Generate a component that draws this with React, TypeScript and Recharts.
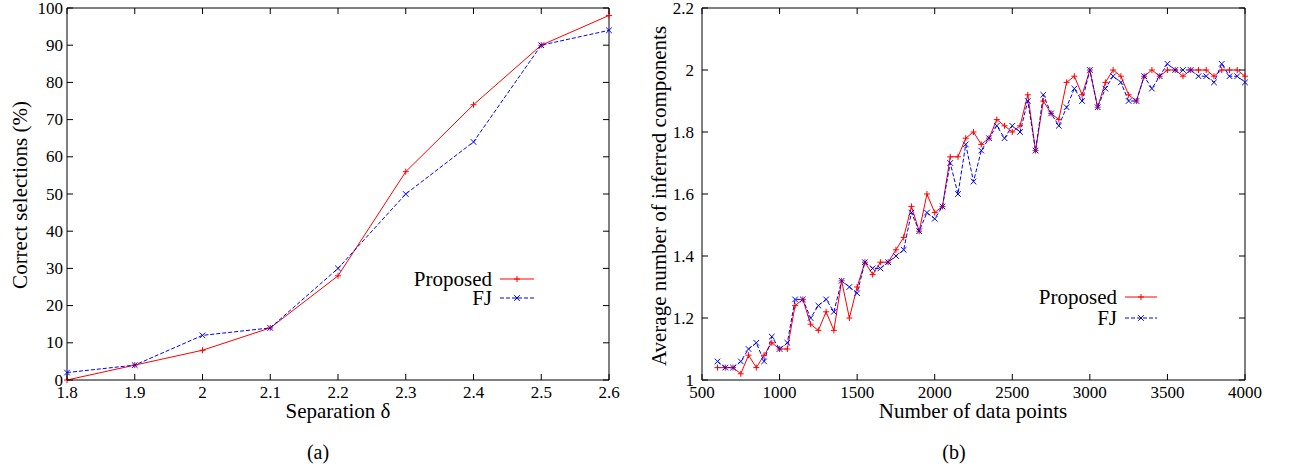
import React from 'react';
import { LineChart, Line, XAxis, YAxis, ReferenceArea, Legend } from 'recharts';

// ---- (a) correct selections vs. separation ----
const separation = [1.8, 1.9, 2.0, 2.1, 2.2, 2.3, 2.4, 2.5, 2.6];
const proposedA = [0, 4, 8, 14, 28, 56, 74, 90, 98];
const fjA = [2, 4, 12, 14, 30, 50, 64, 90, 94];
const ticksXA = [1.8, 1.9, 2, 2.1, 2.2, 2.3, 2.4, 2.5, 2.6];
const ticksYA = [0, 10, 20, 30, 40, 50, 60, 70, 80, 90, 100];

// ---- (b) inferred components vs. number of data points ----
const dataPoints = [
  600, 650, 700, 750, 800, 850, 900, 950, 1000, 1050,
  1100, 1150, 1200, 1250, 1300, 1350, 1400, 1450, 1500, 1550,
  1600, 1650, 1700, 1750, 1800, 1850, 1900, 1950, 2000, 2050,
  2100, 2150, 2200, 2250, 2300, 2350, 2400, 2450, 2500, 2550,
  2600, 2650, 2700, 2750, 2800, 2850, 2900, 2950, 3000, 3050,
  3100, 3150, 3200, 3250, 3300, 3350, 3400, 3450, 3500, 3550,
  3600, 3650, 3700, 3750, 3800, 3850, 3900, 3950, 4000,
];
const proposedB = [
  1.04, 1.04, 1.04, 1.02, 1.08, 1.04, 1.08, 1.12, 1.10, 1.10,
  1.24, 1.26, 1.18, 1.16, 1.22, 1.16, 1.32, 1.20, 1.30, 1.38,
  1.34, 1.38, 1.38, 1.42, 1.46, 1.56, 1.48, 1.60, 1.54, 1.56,
  1.72, 1.72, 1.78, 1.80, 1.76, 1.78, 1.84, 1.82, 1.80, 1.82,
  1.92, 1.74, 1.90, 1.86, 1.84, 1.96, 1.98, 1.92, 2.00, 1.88,
  1.96, 2.00, 1.98, 1.92, 1.90, 1.98, 2.00, 1.98, 2.00, 2.00,
  1.98, 2.00, 2.00, 2.00, 1.98, 2.00, 2.00, 2.00, 1.98,
];
const fjB = [
  1.06, 1.04, 1.04, 1.06, 1.10, 1.12, 1.06, 1.14, 1.10, 1.12,
  1.26, 1.26, 1.20, 1.24, 1.26, 1.22, 1.32, 1.30, 1.28, 1.38,
  1.36, 1.36, 1.38, 1.40, 1.42, 1.54, 1.48, 1.54, 1.52, 1.56,
  1.70, 1.60, 1.76, 1.64, 1.74, 1.78, 1.82, 1.78, 1.82, 1.80,
  1.90, 1.74, 1.92, 1.86, 1.82, 1.88, 1.94, 1.90, 2.00, 1.88,
  1.94, 1.98, 1.96, 1.90, 1.90, 1.98, 1.94, 1.98, 2.02, 2.00,
  2.00, 2.00, 1.98, 1.98, 1.96, 2.02, 1.98, 1.98, 1.96,
];
const ticksXB = [500, 1000, 1500, 2000, 2500, 3000, 3500, 4000];
const ticksYB = [1, 1.2, 1.4, 1.6, 1.8, 2, 2.2];

const seriesNames = ['Proposed', 'FJ'];

const FONT = "'Liberation Serif', 'Times New Roman', Times, serif";
const RED = '#ff0000';
const BLUE = '#0000ff';
const TICK_LEN = 6;

const rowsA = separation.map((s, i) => ({ s, proposed: proposedA[i], fj: fjA[i] }));
const rowsB = dataPoints.map((n, i) => ({ n, proposed: proposedB[i], fj: fjB[i] }));

type Frame = { left: number; right: number; top: number; bottom: number };

const fmt = (v: number) => String(Math.round(v * 1000) / 1000);
const textStyle = { fontFamily: FONT };

function plusPath(cx: number, cy: number, r: number) {
  return `M${cx - r},${cy}L${cx + r},${cy}M${cx},${cy - r}L${cx},${cy + r}`;
}
function crossPath(cx: number, cy: number, r: number) {
  return `M${cx - r},${cy - r}L${cx + r},${cy + r}M${cx - r},${cy + r}L${cx + r},${cy - r}`;
}

const plusDot = (props: any) => {
  const { cx, cy, index } = props;
  if (cx == null || cy == null) return <g key={`p${index}`} />;
  return <path key={`p${index}`} d={plusPath(cx, cy, 3)} stroke={RED} strokeWidth={1} fill="none" />;
};
const crossDot = (props: any) => {
  const { cx, cy, index } = props;
  if (cx == null || cy == null) return <g key={`x${index}`} />;
  return <path key={`x${index}`} d={crossPath(cx, cy, 2.8)} stroke={BLUE} strokeWidth={1} fill="none" />;
};

// Inward ticks on both vertical sides, label to the left of the frame
function makeYTick(frame: Frame, labelRight: number) {
  return (props: any) => {
    const { y, payload } = props;
    return (
      <g>
        <line x1={frame.left} x2={frame.left + TICK_LEN} y1={y} y2={y} stroke="#000" />
        <line x1={frame.right - TICK_LEN} x2={frame.right} y1={y} y2={y} stroke="#000" />
        <text x={labelRight} y={y + 5.6} textAnchor="end" fontSize={17} style={textStyle} fill="#000">
          {fmt(payload.value)}
        </text>
      </g>
    );
  };
}

// Inward ticks on bottom and top, label below the frame
function makeXTick(frame: Frame, baseline: number) {
  return (props: any) => {
    const { x, payload } = props;
    return (
      <g>
        <line x1={x} x2={x} y1={frame.bottom} y2={frame.bottom - TICK_LEN} stroke="#000" />
        <line x1={x} x2={x} y1={frame.top} y2={frame.top + TICK_LEN} stroke="#000" />
        <text x={x} y={baseline} textAnchor="middle" fontSize={17} style={textStyle} fill="#000">
          {fmt(payload.value)}
        </text>
      </g>
    );
  };
}

function makeLegend(textRight: number, lineX1: number, lineX2: number, row1: number, rowGap: number) {
  return () => {
    const mid = (lineX1 + lineX2) / 2;
    const w = lineX2 + 4;
    const h = row1 + rowGap + 12;
    return (
      <svg width={w} height={h} style={{ display: 'block', overflow: 'visible' }}>
        <text x={textRight} y={row1 + 7} textAnchor="end" fontSize={21} style={textStyle} fill="#000">
          {seriesNames[0]}
        </text>
        <line x1={lineX1} x2={lineX2} y1={row1} y2={row1} stroke={RED} strokeWidth={1} />
        <path d={plusPath(mid, row1, 3)} stroke={RED} strokeWidth={1} fill="none" />
        <text x={textRight} y={row1 + rowGap + 7} textAnchor="end" fontSize={21} style={textStyle} fill="#000">
          {seriesNames[1]}
        </text>
        <line
          x1={lineX1}
          x2={lineX2}
          y1={row1 + rowGap}
          y2={row1 + rowGap}
          stroke={BLUE}
          strokeWidth={1}
          strokeDasharray="4 2"
        />
        <path d={crossPath(mid, row1 + rowGap, 2.8)} stroke={BLUE} strokeWidth={1} fill="none" />
      </svg>
    );
  };
}

const frameA: Frame = { left: 67, right: 609, top: 8, bottom: 380 };
const frameB: Frame = { left: 62, right: 605, top: 8, bottom: 380 };

function ChartA() {
  return (
    <LineChart
      width={640}
      height={470}
      data={rowsA}
      margin={{ top: 8, right: 31, bottom: 60, left: 0 }}
    >
      <XAxis
        dataKey="s"
        type="number"
        domain={[1.8, 2.6]}
        ticks={ticksXA}
        interval={0}
        height={30}
        axisLine={false}
        tickLine={false}
        tick={makeXTick(frameA, 398)}
      />
      <YAxis
        type="number"
        domain={[0, 100]}
        ticks={ticksYA}
        interval={0}
        width={67}
        axisLine={false}
        tickLine={false}
        tick={makeYTick(frameA, 63)}
      />
      <Line
        dataKey="proposed"
        type="linear"
        stroke={RED}
        strokeWidth={1}
        dot={plusDot}
        activeDot={false}
        isAnimationActive={false}
      />
      <Line
        dataKey="fj"
        type="linear"
        stroke={BLUE}
        strokeWidth={1}
        strokeDasharray="4 2"
        dot={crossDot}
        activeDot={false}
        isAnimationActive={false}
      />
      <ReferenceArea x1={1.8} x2={2.6} y1={0} y2={100} fill="none" stroke="#000" strokeWidth={1} />
      <Legend
        verticalAlign="middle"
        align="center"
        content={makeLegend(112, 120, 154, 19, 19)}
        wrapperStyle={{ position: 'absolute', left: 380, top: 260, width: 170 }}
      />
    </LineChart>
  );
}

function ChartB() {
  return (
    <LineChart
      width={650}
      height={470}
      data={rowsB}
      margin={{ top: 8, right: 45, bottom: 60, left: 0 }}
    >
      <XAxis
        dataKey="n"
        type="number"
        domain={[500, 4000]}
        ticks={ticksXB}
        interval={0}
        height={30}
        axisLine={false}
        tickLine={false}
        tick={makeXTick(frameB, 398)}
      />
      <YAxis
        type="number"
        domain={[1, 2.2]}
        ticks={ticksYB}
        interval={0}
        width={62}
        axisLine={false}
        tickLine={false}
        tick={makeYTick(frameB, 54)}
      />
      <Line
        dataKey="proposed"
        type="linear"
        stroke={RED}
        strokeWidth={1}
        dot={plusDot}
        activeDot={false}
        isAnimationActive={false}
      />
      <Line
        dataKey="fj"
        type="linear"
        stroke={BLUE}
        strokeWidth={1}
        strokeDasharray="4 2"
        dot={crossDot}
        activeDot={false}
        isAnimationActive={false}
      />
      <ReferenceArea x1={500} x2={4000} y1={1} y2={2.2} fill="none" stroke="#000" strokeWidth={1} />
      <Legend
        verticalAlign="middle"
        align="center"
        content={makeLegend(117, 125, 157, 17, 21)}
        wrapperStyle={{ position: 'absolute', left: 360, top: 280, width: 170 }}
      />
    </LineChart>
  );
}

export default function App() {
  return (
    <div
      style={{
        position: 'absolute',
        left: 0,
        top: 0,
        width: 1290,
        height: 470,
        background: '#fff',
        fontFamily: FONT,
      }}
    >
      <div style={{ position: 'absolute', left: 0, top: 0 }}>
        <ChartA />
      </div>
      <div style={{ position: 'absolute', left: 640, top: 0 }}>
        <ChartB />
      </div>
      <svg
        width={1290}
        height={470}
        style={{ position: 'absolute', left: 0, top: 0, pointerEvents: 'none', fontFamily: FONT }}
      >
        <g fill="#000">
          <text x={26.5} y={195} fontSize={21} textAnchor="middle" transform="rotate(-90 26.5 195)">
            Correct selections (%)
          </text>
          <text x={338} y={418} fontSize={21} textAnchor="middle">
            Separation δ
          </text>
          <text x={318} y={459} fontSize={20} textAnchor="middle">
            (a)
          </text>
          <text x={666} y={196} fontSize={21} textAnchor="middle" transform="rotate(-90 666 196)">
            Average number of inferred components
          </text>
          <text x={973} y={418} fontSize={21} textAnchor="middle">
            Number of data points
          </text>
          <text x={954} y={459} fontSize={20} textAnchor="middle">
            (b)
          </text>
        </g>
      </svg>
    </div>
  );
}
